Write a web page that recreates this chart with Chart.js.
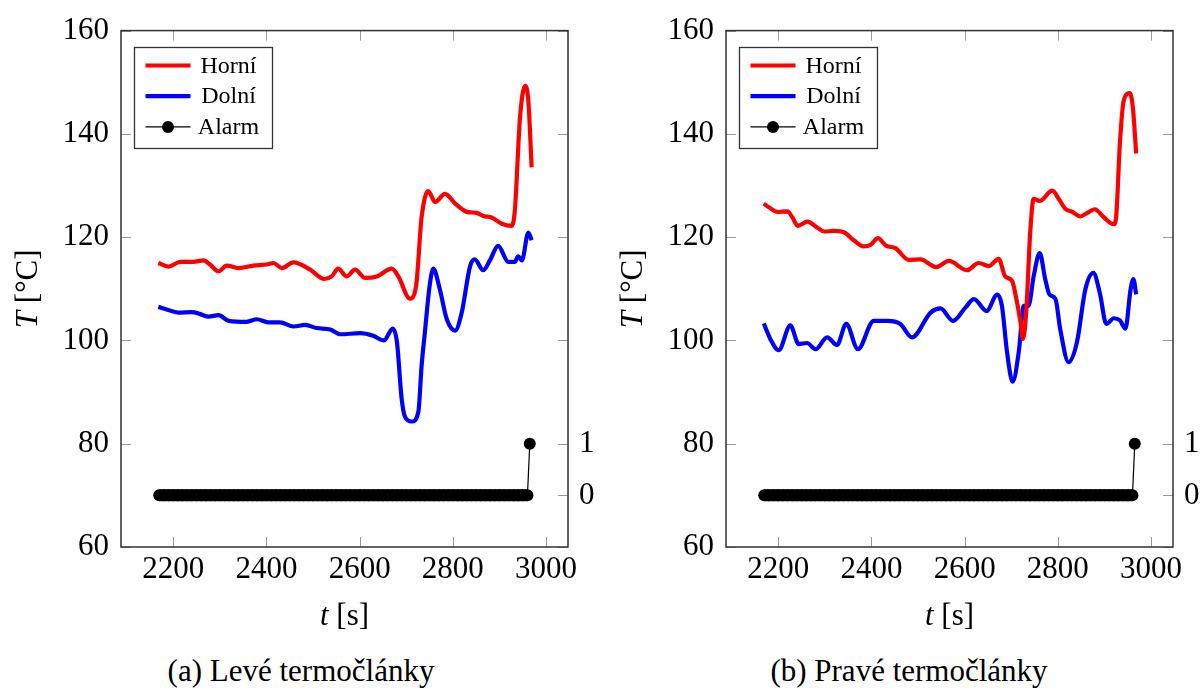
<!DOCTYPE html>
<html>
<head>
<meta charset="utf-8">
<script src="https://cdn.jsdelivr.net/npm/chart.js@4/dist/chart.umd.min.js"></script>
<style>
  html, body { margin: 0; padding: 0; background: #fff; }
  body { width: 1202px; height: 688px; position: relative; overflow: hidden; font-family: "Liberation Serif", "Times New Roman", "DejaVu Serif", serif; }
  #left { position: absolute; left: 0; top: 0; }
  #right { position: absolute; left: 605px; top: 0; }
  .cap { position: absolute; top: 655px; font-size: 31px; line-height: 31px; white-space: nowrap; transform: translateX(-50%); color: #000; }
</style>
</head>
<body>
<canvas id="left" width="600" height="650"></canvas>
<canvas id="right" width="597" height="650"></canvas>
<div class="cap" style="left:301px">(a) Levé termočlánky</div>
<div class="cap" style="left:909px">(b) Pravé termočlánky</div>
<script>
// tick labels
const xTicks = [2200, 2400, 2600, 2800, 3000];
const yTicks = [60, 80, 100, 120, 140, 160];
const alarmTicks = [0, 1];

// levé termočlánky
const leftHorniT = [2168, 2190, 2215, 2243, 2265, 2279, 2297, 2315, 2340, 2372, 2401, 2415, 2433, 2458, 2494, 2524, 2540, 2554, 2572, 2590, 2612, 2637, 2669, 2683, 2708, 2721, 2733, 2747, 2762, 2783, 2805, 2830, 2851, 2865, 2883, 2905, 2926, 2933, 2944, 2955, 2962, 2969];
const leftHorni = [115.0, 114.3, 115.2, 115.2, 115.5, 114.7, 113.4, 114.5, 114.0, 114.5, 114.7, 115.0, 114.0, 115.1, 113.7, 111.9, 112.4, 113.9, 112.4, 113.7, 112.1, 112.4, 113.9, 112.4, 108.1, 110.5, 123.9, 128.9, 126.8, 128.4, 126.5, 124.9, 124.7, 124.1, 123.8, 122.6, 122.2, 125.2, 143.1, 149.3, 146.3, 133.5];
const leftDolniT = [2168, 2186, 2211, 2240, 2258, 2276, 2297, 2319, 2358, 2379, 2404, 2429, 2458, 2483, 2508, 2537, 2558, 2601, 2629, 2652, 2671, 2680, 2690, 2697, 2712, 2726, 2733, 2740, 2750, 2758, 2772, 2787, 2805, 2819, 2837, 2847, 2865, 2880, 2897, 2919, 2933, 2940, 2948, 2962, 2969];
const leftDolni = [106.5, 106.0, 105.4, 105.5, 105.1, 104.6, 104.9, 103.8, 103.6, 104.1, 103.5, 103.5, 102.7, 103.0, 102.4, 102.1, 101.2, 101.4, 100.9, 100.0, 102.3, 99.7, 88.8, 85.3, 84.3, 86.2, 95.2, 101.6, 110.5, 113.9, 109.9, 104.1, 101.9, 105.4, 114.4, 115.7, 113.6, 115.6, 118.3, 115.2, 115.2, 116.3, 115.5, 120.9, 119.4];

// pravé termočlánky
const rightHorniT = [2169, 2180, 2198, 2220, 2230, 2242, 2263, 2280, 2299, 2319, 2342, 2362, 2384, 2398, 2414, 2432, 2451, 2480, 2505, 2539, 2566, 2605, 2630, 2652, 2673, 2687, 2702, 2711, 2720, 2725, 2732, 2741, 2748, 2761, 2788, 2802, 2816, 2831, 2848, 2863, 2879, 2898, 2920, 2925, 2933, 2941, 2954, 2961, 2968];
const rightHorni = [126.5, 125.8, 124.9, 125.0, 123.9, 122.2, 123.0, 122.1, 121.1, 121.2, 120.9, 119.4, 118.2, 118.5, 119.8, 118.3, 117.9, 115.6, 115.7, 114.2, 115.4, 113.6, 115.0, 114.4, 115.8, 112.4, 111.5, 108.0, 103.5, 100.3, 105.4, 121.4, 127.4, 127.0, 129.0, 127.4, 125.5, 124.9, 124.0, 124.7, 125.4, 123.9, 122.5, 123.9, 138.0, 146.3, 147.9, 145.0, 136.2];
const rightDolniT = [2169, 2183, 2201, 2226, 2244, 2262, 2280, 2305, 2326, 2346, 2371, 2405, 2434, 2462, 2487, 2527, 2548, 2575, 2602, 2620, 2647, 2670, 2680, 2691, 2703, 2716, 2727, 2737, 2748, 2761, 2773, 2782, 2795, 2805, 2823, 2841, 2859, 2876, 2890, 2904, 2920, 2933, 2945, 2956, 2962, 2968];
const rightDolni = [103.3, 100.3, 98.1, 102.9, 99.3, 99.5, 98.3, 100.6, 99.1, 103.2, 98.3, 103.8, 103.8, 103.2, 100.6, 105.4, 106.2, 103.8, 106.4, 108.0, 105.7, 108.9, 106.7, 97.7, 92.0, 97.7, 106.7, 106.7, 112.4, 116.9, 111.8, 108.9, 108.0, 102.2, 95.8, 99.7, 109.9, 113.1, 109.2, 103.2, 104.3, 103.9, 102.3, 109.9, 111.9, 108.9];

// alarm (same for both sides)
const alarmT = [2170, 2180, 2190, 2200, 2210, 2220, 2230, 2240, 2250, 2260, 2270, 2280, 2290, 2300, 2310, 2320, 2330, 2340, 2350, 2360, 2370, 2380, 2390, 2400, 2410, 2420, 2430, 2440, 2450, 2460, 2470, 2480, 2490, 2500, 2510, 2520, 2530, 2540, 2550, 2560, 2570, 2580, 2590, 2600, 2610, 2620, 2630, 2640, 2650, 2660, 2670, 2680, 2690, 2700, 2710, 2720, 2730, 2740, 2750, 2760, 2770, 2780, 2790, 2800, 2810, 2820, 2830, 2840, 2850, 2860, 2870, 2880, 2890, 2900, 2910, 2920, 2930, 2940, 2950, 2960, 2965];
const alarm = [0, 0, 0, 0, 0, 0, 0, 0, 0, 0, 0, 0, 0, 0, 0, 0, 0, 0, 0, 0, 0, 0, 0, 0, 0, 0, 0, 0, 0, 0, 0, 0, 0, 0, 0, 0, 0, 0, 0, 0, 0, 0, 0, 0, 0, 0, 0, 0, 0, 0, 0, 0, 0, 0, 0, 0, 0, 0, 0, 0, 0, 0, 0, 0, 0, 0, 0, 0, 0, 0, 0, 0, 0, 0, 0, 0, 0, 0, 0, 0, 1];

const FONT = '"Liberation Serif", "Times New Roman", "DejaVu Serif", serif';
Chart.defaults.font.family = FONT;
Chart.defaults.color = '#000';

function zip(xs, ys) {
    return xs.map((x, i) => ({ x: x, y: ys[ i ] }));
}

// text with an italic variable followed by upright units
function drawMixed(ctx, parts, cx, cy, rotate) {
    ctx.save();
    ctx.translate(cx, cy);
    if (rotate) ctx.rotate(-Math.PI / 2);
    ctx.textBaseline = 'middle';
    ctx.textAlign = 'left';
    ctx.fillStyle = '#000';
    let total = 0;
    parts.forEach(p => { ctx.font = p.font; p.w = ctx.measureText(p.text).width; total += p.w; });
    let x = -total / 2;
    parts.forEach(p => { ctx.font = p.font; ctx.fillText(p.text, x, 0); x += p.w; });
    ctx.restore();
}

const framePlugin = {
    id: 'frame',
    beforeDatasetsDraw(chart) {
        const { ctx, chartArea: a, scales } = chart;
        ctx.save();
        ctx.strokeStyle = '#9a9a9a';
        ctx.lineWidth = 1;
        ctx.beginPath();
        for (const v of xTicks) {
            const x = Math.round(scales.x.getPixelForValue(v)) + 0.5;
            ctx.moveTo(x, a.bottom); ctx.lineTo(x, a.bottom - 10);
            ctx.moveTo(x, a.top); ctx.lineTo(x, a.top + 10);
        }
        for (const v of yTicks) {
            const y = Math.round(scales.y.getPixelForValue(v)) + 0.5;
            ctx.moveTo(a.left, y); ctx.lineTo(a.left + 10, y);
            ctx.moveTo(a.right, y); ctx.lineTo(a.right - 10, y);
        }
        for (const v of alarmTicks) {
            const y = Math.round(scales.y1.getPixelForValue(v)) + 0.5;
            ctx.moveTo(a.right, y); ctx.lineTo(a.right - 10, y);
        }
        ctx.stroke();
        ctx.strokeStyle = '#333';
        ctx.lineWidth = 1.5;
        ctx.strokeRect(a.left, a.top, a.width, a.height);
        ctx.restore();
    },
    afterDatasetsDraw(chart) {
        // legend in the upper left corner
        const { ctx, chartArea: a } = chart;
        const bx = Math.round(a.left + 13) + 0.5, by = Math.round(a.top + 16) + 0.5, bw = 138, bh = 101;
        ctx.save();
        ctx.fillStyle = '#fff';
        ctx.fillRect(bx, by, bw, bh);
        ctx.strokeStyle = '#333';
        ctx.lineWidth = 1.3;
        ctx.strokeRect(bx, by, bw, bh);
        chart.data.datasets.forEach((ds, i) => {
            const y = by + 18 + i * 30.7;
            ctx.strokeStyle = ds.borderColor;
            ctx.lineWidth = ds.borderWidth;
            ctx.beginPath();
            ctx.moveTo(bx + 11, y);
            ctx.lineTo(bx + 56, y);
            ctx.stroke();
            if (ds.pointRadius) {
                ctx.fillStyle = ds.pointBackgroundColor;
                ctx.beginPath();
                ctx.arc(bx + 33.5, y, ds.pointRadius, 0, 2 * Math.PI);
                ctx.fill();
            }
            ctx.fillStyle = '#000';
            ctx.font = '24px ' + FONT;
            ctx.textAlign = 'center';
            ctx.textBaseline = 'middle';
            ctx.fillText(ds.label, bx + 94, y + 1);
        });
        ctx.restore();
    },
    afterDraw(chart) {
        const { ctx, chartArea: a } = chart;
        drawMixed(ctx, [ { text: 'T', font: 'italic 31px ' + FONT }, { text: ' [°C]', font: '31px ' + FONT } ], 29, (a.top + a.bottom) / 2, true);
        drawMixed(ctx, [ { text: 't', font: 'italic 31px ' + FONT }, { text: ' [s]', font: '31px ' + FONT } ], (a.left + a.right) / 2, 617, false);
    }
};

function makeChart(id, rightWidth, horniT, horni, dolniT, dolni) {
    return new Chart(document.getElementById(id), {
        type: 'line',
        data: {
            datasets: [
                {
                    label: 'Horní',
                    data: zip(horniT, horni),
                    borderColor: '#ff0000',
                    borderWidth: 4.2,
                    borderJoinStyle: 'round',
                    pointRadius: 0,
                    cubicInterpolationMode: 'monotone',
                    yAxisID: 'y'
                },
                {
                    label: 'Dolní',
                    data: zip(dolniT, dolni),
                    borderColor: '#0000ff',
                    borderWidth: 4.2,
                    borderJoinStyle: 'round',
                    pointRadius: 0,
                    cubicInterpolationMode: 'monotone',
                    yAxisID: 'y'
                },
                {
                    label: 'Alarm',
                    data: zip(alarmT, alarm),
                    borderColor: '#000',
                    borderWidth: 1.2,
                    // the overlapping markers form a solid bar where the alarm stays at 0
                    segment: {
                        borderWidth: c => (c.p0.parsed.y === 0 && c.p1.parsed.y === 0) ? 12 : 1.2
                    },
                    pointRadius: 6,
                    pointBorderWidth: 0,
                    pointBackgroundColor: '#000',
                    tension: 0,
                    yAxisID: 'y1'
                }
            ]
        },
        options: {
            responsive: false,
            animation: false,
            events: [],
            layout: { padding: { top: 25, left: 0, right: 0, bottom: 0 } },
            plugins: {
                legend: { display: false },
                tooltip: { enabled: false }
            },
            scales: {
                x: {
                    type: 'linear',
                    min: 2088,
                    max: 3047,
                    grid: { display: false, drawTicks: false },
                    border: { display: false },
                    afterBuildTicks: s => { s.ticks = xTicks.map(v => ({ value: v })); },
                    afterFit: s => { s.height = 103; },
                    ticks: { font: { size: 31 }, color: '#000', padding: 4, maxRotation: 0, autoSkip: false, callback: v => String(v) }
                },
                y: {
                    position: 'left',
                    min: 60,
                    max: 160,
                    grid: { display: false, drawTicks: false },
                    border: { display: false },
                    afterBuildTicks: s => { s.ticks = yTicks.map(v => ({ value: v })); },
                    afterFit: s => { s.width = 121; },
                    ticks: { font: { size: 31 }, color: '#000', padding: 12, callback: v => String(v) }
                },
                y1: {
                    position: 'right',
                    min: -1,
                    max: 9,
                    grid: { display: false, drawTicks: false },
                    border: { display: false },
                    afterBuildTicks: s => { s.ticks = alarmTicks.map(v => ({ value: v })); },
                    afterFit: s => { s.width = rightWidth; },
                    ticks: { font: { size: 31 }, color: '#000', padding: 11, callback: v => String(v) }
                }
            }
        },
        plugins: [ framePlugin ]
    });
}

makeChart('left', 32, leftHorniT, leftHorni, leftDolniT, leftDolni);
makeChart('right', 29, rightHorniT, rightHorni, rightDolniT, rightDolni);
</script>
</body>
</html>
